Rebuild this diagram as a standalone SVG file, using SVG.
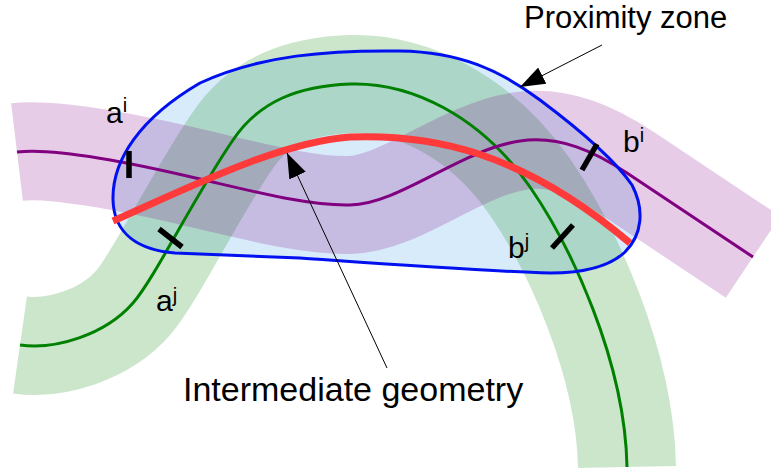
<svg xmlns="http://www.w3.org/2000/svg" width="771" height="471" viewBox="0 0 771 471">
  <style>
    .band { fill: none; stroke-width: 98; stroke-linecap: butt; stroke-linejoin: round; }
    .bandG { stroke: #008000; stroke-opacity: 0.2; }
    .bandP { stroke: #800080; stroke-opacity: 0.2; }
    .axis { fill: none; stroke-width: 3; stroke-linecap: butt; }
    .tick { stroke: #000; stroke-width: 5.5; stroke-linecap: butt; }
    .lbl { font-family: "Liberation Sans", Arial, sans-serif; fill: #000; }
    .conn { fill: none; stroke: #000; stroke-width: 1; }
  </style>
  <defs>
    <marker id="ah" viewBox="0 0 25 18" refX="25" refY="9" markerWidth="25" markerHeight="18" markerUnits="userSpaceOnUse" orient="auto">
      <path d="M0,0 L25,9 L0,18 Z" fill="#000"/>
    </marker>
  </defs>

  <!-- proximity zone fill -->
  <g id="zone-fill">
    <path id="zonePath" d="M113,200 C112,160 140,118 200,83 C260,55 330,50 400,51 C460,52 500,70 540,100 C580,130 615,160 632,185 C645,210 642,235 625,252 C608,268 580,273 550,273 C480,271 400,265 300,258 L175,253 C140,250 114,235 113,200 Z" fill="#d7ebfb"/>
  </g>

  <!-- green band (a^j .. b^j) -->
  <g id="band-j">
    <path class="band bandG" d="M20,345 C55,350 105,335 133,303 C155,278 195,195 233,140 C260,100 300,86 350,84 C410,82 480,115 530,187 C570,245 625,360 627,467"/>
  </g>

  <!-- purple band (a^i .. b^i) -->
  <g id="band-i">
    <path class="band bandP" d="M17,152 C50,148 120,160 200,179 C260,193 310,206 350,205 C400,204 460,150 520,141 C560,135 595,152 627,173 L753,257"/>
  </g>

  <!-- centre lines -->
  <g id="line-j">
    <path class="axis" stroke="#008000" d="M20,345 C55,350 105,335 133,303 C155,278 195,195 233,140 C260,100 300,86 350,84 C410,82 480,115 530,187 C570,245 625,360 627,467"/>
  </g>
  <g id="line-i">
    <path class="axis" stroke="#800080" d="M17,152 C50,148 120,160 200,179 C260,193 310,206 350,205 C400,204 460,150 520,141 C560,135 595,152 627,173 L753,257"/>
  </g>

  <!-- proximity zone outline -->
  <g id="zone-outline">
    <path d="M113,200 C112,160 140,118 200,83 C260,55 330,50 400,51 C460,52 500,70 540,100 C580,130 615,160 632,185 C645,210 642,235 625,252 C608,268 580,273 550,273 C480,271 400,265 300,258 L175,253 C140,250 114,235 113,200 Z" fill="none" stroke="#0010f0" stroke-width="3"/>
  </g>

  <!-- intermediate geometry -->
  <g id="intermediate">
    <path d="M113,221 C190,187 280,142 350,137 C430,134 520,150 630,243" fill="none" stroke="#ff3a3a" stroke-width="7"/>
  </g>

  <!-- ticks -->
  <g id="ticks">
    <line class="tick" x1="129" y1="151" x2="129" y2="178"/>
    <line class="tick" x1="159" y1="229" x2="182" y2="247"/>
    <line class="tick" x1="597" y1="144" x2="582" y2="170"/>
    <line class="tick" x1="573" y1="225" x2="552" y2="248"/>
  </g>

  <!-- labels -->
  <g id="label-ai"><text class="lbl" x="106" y="123" font-size="30">a<tspan font-size="20" dy="-11">i</tspan></text></g>
  <g id="label-aj"><text class="lbl" x="156" y="311" font-size="30">a<tspan font-size="20" dy="-9">j</tspan></text></g>
  <g id="label-bi"><text class="lbl" x="623" y="152" font-size="30">b<tspan font-size="20" dy="-10">i</tspan></text></g>
  <g id="label-bj"><text class="lbl" x="508" y="258" font-size="30">b<tspan font-size="20" dy="-10">j</tspan></text></g>
  <g id="label-zone"><text class="lbl" x="524" y="28" font-size="31">Proximity zone</text></g>
  <g id="label-geom"><text class="lbl" x="183" y="401" font-size="34">Intermediate geometry</text></g>

  <!-- connectors -->
  <g id="connectors">
    <path class="conn" d="M602,45 L520,87" marker-end="url(#ah)"/>
    <path class="conn" d="M387,368 L287,153" marker-end="url(#ah)"/>
  </g>
</svg>
